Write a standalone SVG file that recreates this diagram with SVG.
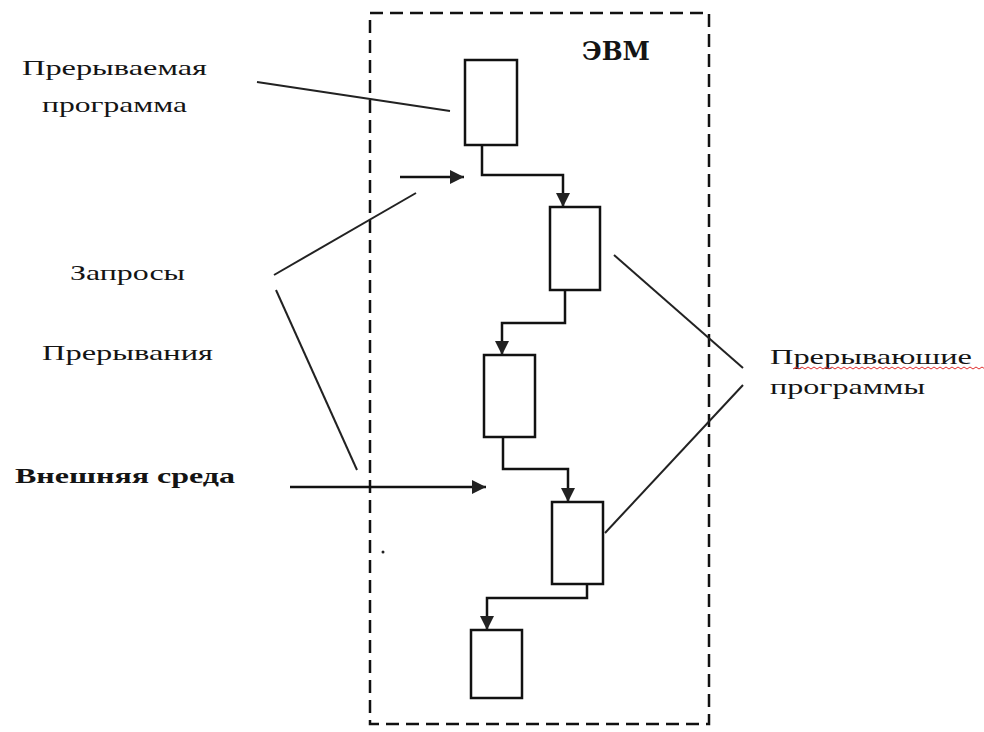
<svg xmlns="http://www.w3.org/2000/svg" width="984" height="732" viewBox="0 0 984 732">
<style>
  .lbl { font-family: "Liberation Serif", "DejaVu Serif", "Times New Roman", serif; font-size: 22px; fill: #141414; }
  .bold { font-weight: bold; font-size: 22px; }
  .evm { font-family: "DejaVu Serif", "Liberation Serif", serif; font-weight: bold; font-size: 26px; fill: #141414; }
  .box { fill: #ffffff; stroke: #111; stroke-width: 2.5; }
  .flow { fill: none; stroke: #111; stroke-width: 2.5; }
  .lead { fill: none; stroke: #222; stroke-width: 2; }
  .frame { fill: none; stroke: #111; stroke-width: 2.5; stroke-dasharray: 13 7; }
</style>
<defs>
  <marker id="ah" viewBox="0 0 14 14" refX="14" refY="7" markerWidth="14" markerHeight="14" markerUnits="userSpaceOnUse" orient="auto">
    <path d="M0,0 L14,7 L0,14 Z" fill="#222"/>
  </marker>
</defs>
<rect id="frame" class="frame" x="370" y="13" width="339" height="711"/>
<g id="evm-label"><text class="evm" x="582" y="60" textLength="68" lengthAdjust="spacingAndGlyphs">ЭВМ</text></g>

<g id="box1"><rect class="box" x="465" y="60" width="52" height="85"/></g>
<g id="box2"><rect class="box" x="550" y="207" width="50" height="83"/></g>
<g id="box3"><rect class="box" x="484" y="355" width="51" height="82"/></g>
<g id="box4"><rect class="box" x="552" y="502" width="51" height="82"/></g>
<g id="box5"><rect class="box" x="471" y="630" width="51" height="68"/></g>

<g id="connectors">
  <polyline class="flow" points="482,145 482,175 563,175 563,207" marker-end="url(#ah)"/>
  <polyline class="flow" points="565,290 565,323 502,323 502,355" marker-end="url(#ah)"/>
  <polyline class="flow" points="503,437 503,469 568,469 568,502" marker-end="url(#ah)"/>
  <polyline class="flow" points="587,584 587,598 487,598 487,630" marker-end="url(#ah)"/>
  <line class="flow" x1="400" y1="177" x2="464" y2="177" marker-end="url(#ah)"/>
  <line class="flow" x1="290" y1="487" x2="486" y2="487" stroke-width="3" marker-end="url(#ah)"/>
  <line class="lead" x1="257" y1="82" x2="450" y2="111"/>
  <line class="lead" x1="274" y1="275" x2="416" y2="193"/>
  <line class="lead" x1="276" y1="290" x2="357" y2="470"/>
  <line class="lead" x1="614" y1="255" x2="743" y2="368"/>
  <line class="lead" x1="743" y1="385" x2="605" y2="533"/>
  <circle cx="383" cy="552" r="1.5" fill="#222"/>
</g>

<g id="label-interrupted">
  <text class="lbl" x="22" y="75" textLength="185" lengthAdjust="spacingAndGlyphs">Прерываемая</text>
  <text class="lbl" x="42" y="112" textLength="145" lengthAdjust="spacingAndGlyphs">программа</text>
</g>
<g id="label-requests"><text class="lbl" x="70" y="280" textLength="115" lengthAdjust="spacingAndGlyphs">Запросы</text></g>
<g id="label-interrupts"><text class="lbl" x="42" y="360" textLength="171" lengthAdjust="spacingAndGlyphs">Прерывания</text></g>
<g id="label-env"><text class="lbl bold" x="15" y="483" textLength="220" lengthAdjust="spacingAndGlyphs">Внешняя среда</text></g>
<g id="label-interrupting">
  <text class="lbl" x="770" y="364" textLength="202" lengthAdjust="spacingAndGlyphs">Прерываюшие</text>
  <path d="M793,369 l3,-2 l3,2 l3,-2 l3,2 l3,-2 l3,2 l3,-2 l3,2 l3,-2 l3,2 l3,-2 l3,2 l3,-2 l3,2 l3,-2 l3,2 l3,-2 l3,2 l3,-2 l3,2 l3,-2 l3,2 l3,-2 l3,2 l3,-2 l3,2 l3,-2 l3,2 l3,-2 l3,2 l3,-2 l3,2 l3,-2 l3,2 l3,-2 l3,2 l3,-2 l3,2 l3,-2 l3,2 l3,-2 l3,2 l3,-2 l3,2 l3,-2 l3,2 l3,-2 l3,2 l3,-2 l3,2 l3,-2 l3,2 l3,-2 l3,2 l3,-2 l3,2 l3,-2 l3,2 l3,-2 l3,2 l3,-2 l3,2 l3,-2 l3,2" fill="none" stroke="#e03030" stroke-width="1"/>
  <text class="lbl" x="770" y="394" textLength="155" lengthAdjust="spacingAndGlyphs">программы</text>
</g>
</svg>
